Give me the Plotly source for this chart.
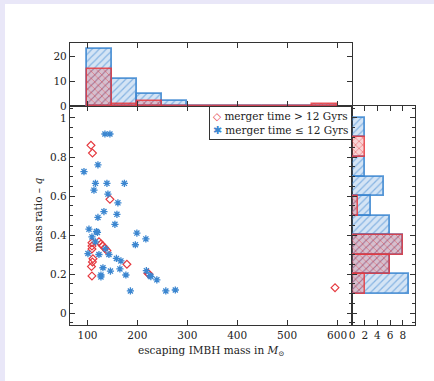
import plotly.graph_objects as go

# ---------------- data ----------------
blue_mass = [135, 145, 121, 93, 116, 139, 174, 113, 141, 161, 133, 159, 121, 155, 103,
             118, 120, 199, 109, 217, 116, 196, 136, 101, 123, 143, 158, 167, 131, 165,
             218, 146, 127, 177, 225, 227, 127, 239, 186, 257, 276]
blue_q = [0.918, 0.918, 0.76, 0.725, 0.665, 0.665, 0.665, 0.63, 0.61, 0.565, 0.52, 0.506,
          0.49, 0.455, 0.43, 0.418, 0.413, 0.41, 0.39, 0.38, 0.365, 0.35, 0.33, 0.305,
          0.30, 0.30, 0.28, 0.267, 0.232, 0.226, 0.217, 0.215, 0.195, 0.195, 0.192,
          0.187, 0.185, 0.17, 0.113, 0.113, 0.118]

red_mass = [107, 110, 145, 109, 109, 109, 111, 110, 108, 109, 123, 127, 131, 135, 139,
            179, 221, 223, 596]
red_q = [0.86, 0.82, 0.583, 0.36, 0.343, 0.328, 0.278, 0.262, 0.238, 0.19, 0.366, 0.354,
         0.344, 0.332, 0.32, 0.25, 0.204, 0.2, 0.13]

mass_bin_edges = [100, 150, 200, 250, 300, 350, 400, 450, 500, 550, 600]
blue_mass_counts = [23, 11, 5, 2, 0, 0, 0, 0, 0, 0]
red_mass_counts = [15, 1, 2, 0, 0, 0, 0, 0, 0, 1]

q_bin_edges = [0.0, 0.1, 0.2, 0.3, 0.4, 0.5, 0.6, 0.7, 0.8, 0.9, 1.0]
blue_q_counts = [0, 9, 6, 8, 6, 3, 5, 2, 0, 2]
red_q_counts = [0, 2, 6, 8, 0, 1, 0, 0, 2, 0]

mass_ticks = [100, 200, 300, 400, 500, 600]
q_ticks = [0, 0.2, 0.4, 0.6, 0.8, 1]
count_ticks_top = [0, 10, 20]
count_ticks_right = [0, 2, 4, 6, 8]

label_red = "merger time &gt; 12 Gyrs"
label_blue = "merger time ≤ 12 Gyrs"

# ---------------- style ----------------
W, H = 434, 381
BLUE = "#3b86d0"
RED = "#e5393f"
AX = "#333333"
FONT = "DejaVu Serif"
TXT = "#222222"

def centers(edges):
    return [(a + b) / 2 for a, b in zip(edges[:-1], edges[1:])]

def widths(edges):
    return [b - a for a, b in zip(edges[:-1], edges[1:])]

blue_bar = dict(color="rgba(59,134,208,0.22)", line=dict(color="rgba(59,134,208,0.85)", width=1.8),
                pattern=dict(shape="/", fgcolor=BLUE, size=5, solidity=0.25, fillmode="overlay"))
red_bar = dict(color="rgba(229,57,63,0.22)", line=dict(color="rgba(229,57,63,0.85)", width=1.5),
               pattern=dict(shape="x", fgcolor=RED, size=5, solidity=0.3, fillmode="overlay"))

fig = go.Figure()

# main scatter
fig.add_trace(go.Scatter(
    x=red_mass, y=red_q, mode="markers", name=label_red,
    marker=dict(symbol="diamond-open", size=6, color=RED, line=dict(width=1.2, color=RED)),
    xaxis="x", yaxis="y", showlegend=False))
fig.add_trace(go.Scatter(
    x=blue_mass, y=blue_q, mode="markers", name=label_blue,
    marker=dict(symbol="asterisk-open", size=6, color=BLUE, line=dict(width=1.3, color=BLUE)),
    xaxis="x", yaxis="y", showlegend=False))

# top histogram
fig.add_trace(go.Bar(x=centers(mass_bin_edges), y=blue_mass_counts, width=widths(mass_bin_edges),
                     marker=blue_bar, showlegend=False, xaxis="x2", yaxis="y2"))
fig.add_trace(go.Bar(x=centers(mass_bin_edges), y=red_mass_counts, width=widths(mass_bin_edges),
                     marker=red_bar, showlegend=False, xaxis="x2", yaxis="y2"))

# right histogram
fig.add_trace(go.Bar(y=centers(q_bin_edges), x=blue_q_counts, width=widths(q_bin_edges),
                     orientation="h", marker=blue_bar, showlegend=False, xaxis="x3", yaxis="y3"))
fig.add_trace(go.Bar(y=centers(q_bin_edges), x=red_q_counts, width=widths(q_bin_edges),
                     orientation="h", marker=red_bar, showlegend=False, xaxis="x3", yaxis="y3"))

xL, xM, xR = 70 / W, 352 / W, 415 / W
yB, yM, yT = 1 - 325 / H, 1 - 106 / H, 1 - 43 / H

common = dict(showline=True, linecolor=AX, linewidth=1.3, mirror="allticks",
              ticks="inside", ticklen=5, tickwidth=1, tickcolor=AX,
              showgrid=False, zeroline=False, automargin=False,
              tickfont=dict(family=FONT, size=10.5, color=TXT))
minor_q = dict(dtick=0.05, ticks="inside", ticklen=3, tickcolor=AX, showgrid=False)

legend_text = (f"<span style='color:{RED}'>◇</span> {label_red}<br>"
               f"<span style='color:{BLUE}'>✱</span> {label_blue}")

fig.update_layout(
    width=W, height=H,
    margin=dict(l=0, r=0, t=0, b=0, pad=0),
    paper_bgcolor="#e9e7f8", plot_bgcolor="white",
    barmode="overlay", bargap=0,
    font=dict(family=FONT, size=10.5, color=TXT),
    xaxis=dict(domain=[xL, xM], anchor="y", range=[65, 630], tickvals=mass_ticks, **common),
    yaxis=dict(domain=[yB, yM], anchor="x", range=[-0.0615, 1.0615], tickvals=q_ticks,
               ticktext=["0", "0.2", "0.4", "0.6", "0.8", "1"], minor=minor_q, **common),
    xaxis2=dict(domain=[xL, xM], anchor="y2", range=[65, 630], tickvals=mass_ticks,
                showticklabels=False, **common),
    yaxis2=dict(domain=[yM, yT], anchor="x2", range=[0, 25.2], tickvals=count_ticks_top, **common),
    xaxis3=dict(domain=[xM, xR], anchor="y3", range=[0, 9.9], tickvals=count_ticks_right, **common),
    yaxis3=dict(domain=[yB, yM], anchor="x3", range=[-0.0615, 1.0615], tickvals=q_ticks,
                showticklabels=False, minor=minor_q, **common),
    showlegend=False,
    shapes=[dict(type="rect", xref="paper", yref="paper", x0=5 / W, x1=1.01, y0=-0.01, y1=1 - 4 / H,
                 fillcolor="white", line=dict(width=0), layer="below")],
    annotations=[
        dict(text=legend_text, x=xM, y=yM, xref="paper", yref="paper", xanchor="right",
             yanchor="top", align="left", showarrow=False, bgcolor="white",
             bordercolor=AX, borderwidth=1, borderpad=3,
             font=dict(family=FONT, size=10.5, color=TXT)),
        dict(text="mass ratio – <i>q</i>", x=30 / W, y=1 - 215 / H, xref="paper", yref="paper",
             showarrow=False, textangle=-90, font=dict(family=FONT, size=10.5, color=TXT)),
        dict(text="escaping IMBH mass in <i>M</i><sub>⊙</sub>", x=211 / W, y=1 - 360 / H,
             xref="paper", yref="paper", showarrow=False,
             font=dict(family=FONT, size=10.5, color=TXT)),
    ],
)

fig.write_html("out.html", config={"displayModeBar": False},
               post_script="document.body.style.margin='0';document.body.style.overflow='hidden';")
